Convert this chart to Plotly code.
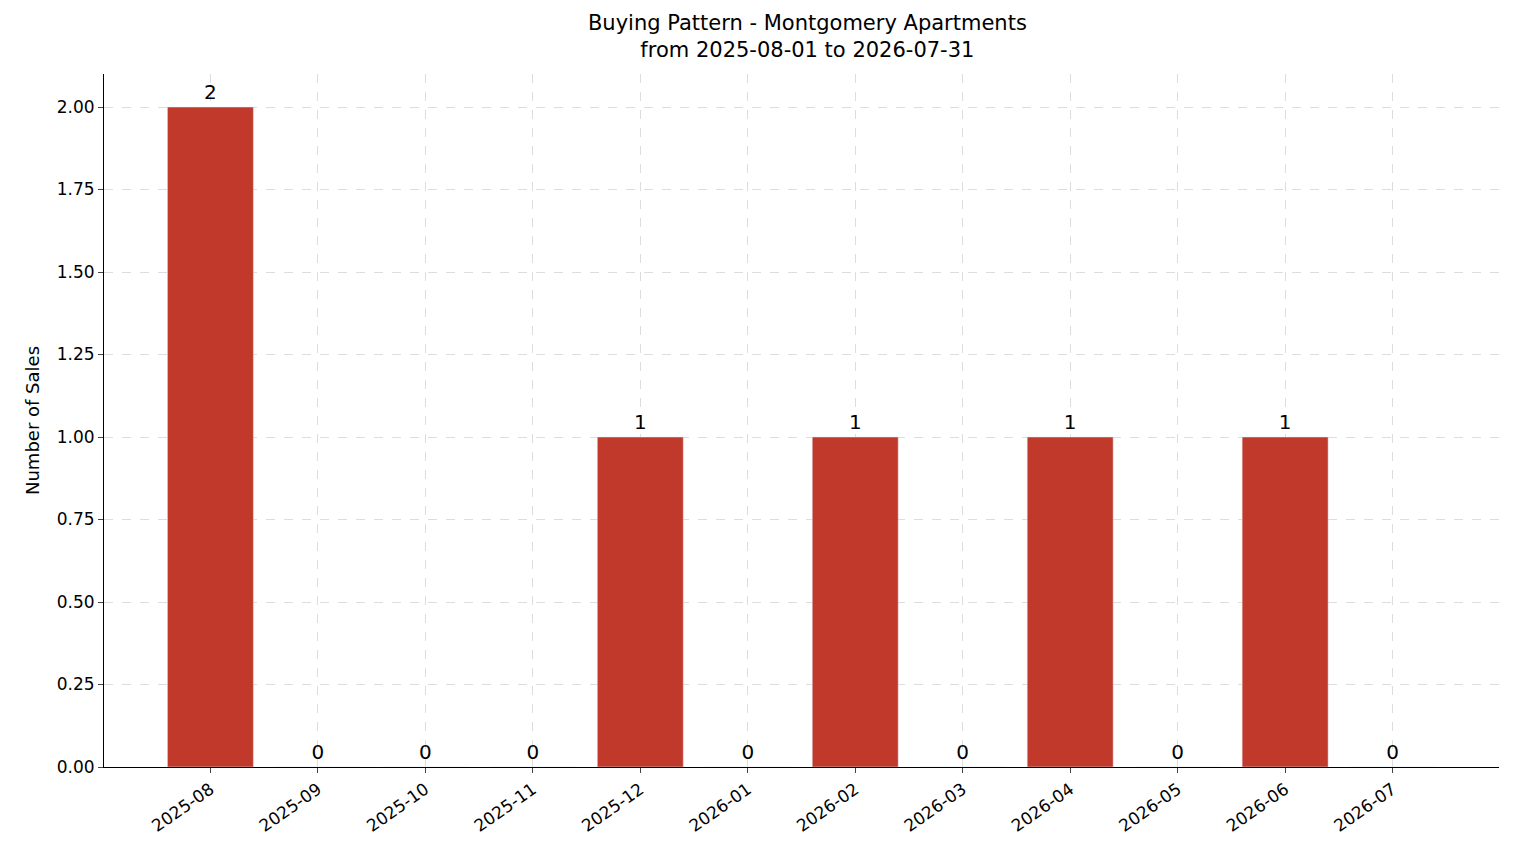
import plotly.graph_objects as go

months = ["2025-08", "2025-09", "2025-10", "2025-11", "2025-12", "2026-01",
          "2026-02", "2026-03", "2026-04", "2026-05", "2026-06", "2026-07"]
sales = [2, 0, 0, 0, 1, 0, 1, 0, 1, 0, 1, 0]
y_ticks = [0, 0.25, 0.5, 0.75, 1.0, 1.25, 1.5, 1.75, 2.0]

idx = list(range(len(months)))

fig = go.Figure()
fig.add_trace(go.Bar(x=idx, y=sales, width=0.8, marker_color="#c0392b",
                     text=[str(v) for v in sales], textposition="outside",
                     textfont=dict(size=20, color="black"), cliponaxis=False))

fig.update_layout(
    width=1514, height=863,
    margin=dict(l=96, r=23, t=66, b=104),
    plot_bgcolor="white", paper_bgcolor="white",
    font=dict(family="DejaVu Sans", size=17, color="black"),
    title=dict(text="Buying Pattern - Montgomery Apartments<br>from 2025-08-01 to 2026-07-31",
               x=0.528, xanchor="center", y=0.975, yanchor="top",
               font=dict(size=21)),
    showlegend=False, bargap=0.2,
)
fig.update_xaxes(range=[-0.99, 11.99], tickmode="array", tickvals=idx, ticktext=months,
                 tickangle=-35, showgrid=True, gridcolor="#dddddd", griddash="dash",
                 showline=True, linecolor="black", ticks="outside", ticklen=5,
                 tickfont=dict(size=17))
fig.update_yaxes(range=[0, 2.1], tickmode="array", tickvals=y_ticks,
                 ticktext=["%.2f" % v for v in y_ticks],
                 showgrid=True, gridcolor="#dddddd", griddash="dash",
                 showline=True, linecolor="black", ticks="outside", ticklen=5,
                 zeroline=False, tickfont=dict(size=17),
                 title=dict(text="Number of Sales", font=dict(size=18), standoff=12))

fig.write_html("out.html")
